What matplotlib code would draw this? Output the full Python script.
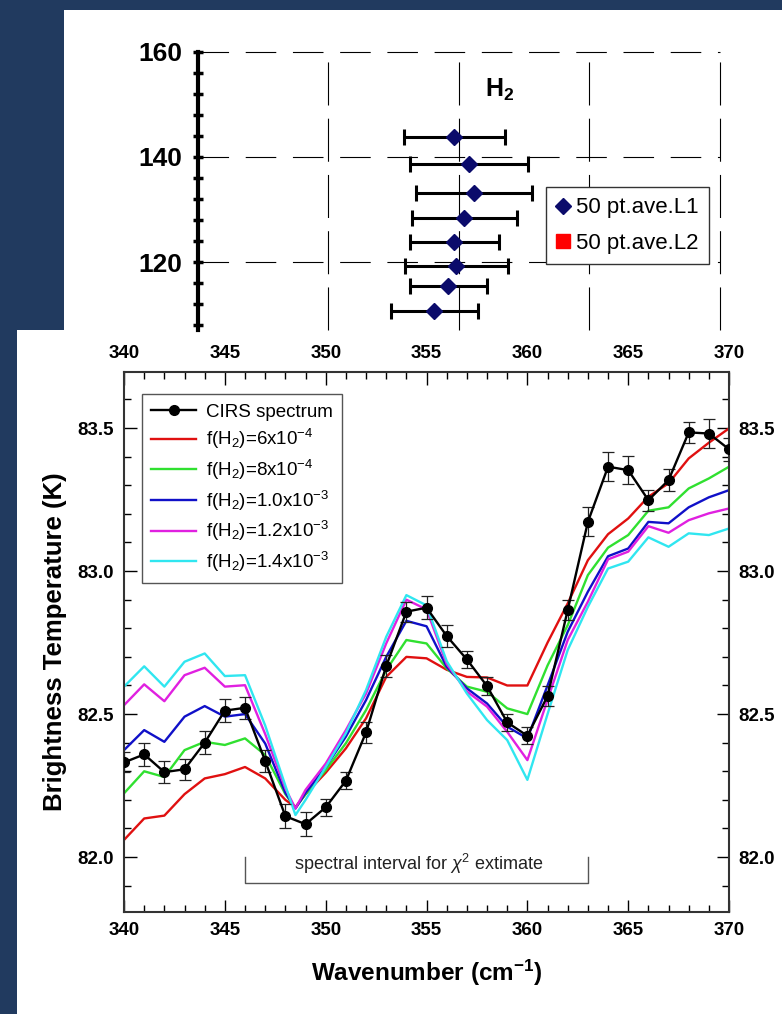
import numpy as np
import matplotlib
matplotlib.use("Agg")
import matplotlib.pyplot as plt
from matplotlib.patches import Rectangle
from matplotlib.lines import Line2D
from matplotlib.ticker import MultipleLocator, FormatStrFormatter

plt.rcParams['font.family'] = ['Liberation Sans', 'DejaVu Sans']
plt.rcParams['mathtext.fontset'] = 'custom'
plt.rcParams['mathtext.rm'] = 'Liberation Sans'
plt.rcParams['mathtext.it'] = 'Liberation Sans:italic'
plt.rcParams['mathtext.bf'] = 'Liberation Sans:bold'
plt.rcParams['lines.scale_dashes'] = False

# upper panel : H2 mole fraction (x 1e-3), 50 point averages
h2_level = [143.7, 138.6, 133.2, 128.4, 123.8, 119.2, 115.4, 110.8]
h2_frac = [0.981, 1.038, 1.057, 1.021, 0.981, 0.988, 0.956, 0.906]
h2_lo = [0.791, 0.814, 0.837, 0.821, 0.812, 0.794, 0.812, 0.741]
h2_hi = [1.177, 1.265, 1.280, 1.221, 1.154, 1.186, 1.106, 1.071]

# lower panel : CIRS spectrum
cirs_wn = list(range(340, 371))
cirs_tb = [82.331, 82.359, 82.297, 82.307, 82.400, 82.512, 82.522, 82.336,
           82.143, 82.115, 82.174, 82.267, 82.436, 82.668, 82.858, 82.872,
           82.773, 82.691, 82.598, 82.471, 82.424, 82.563, 82.864, 83.172,
           83.365, 83.353, 83.248, 83.318, 83.485, 83.481, 83.426]
cirs_err = [0.035, 0.041, 0.038, 0.037, 0.040, 0.040, 0.038, 0.038, 0.041,
            0.042, 0.030, 0.030, 0.038, 0.038, 0.035, 0.041, 0.039, 0.031,
            0.030, 0.030, 0.030, 0.035, 0.035, 0.051, 0.051, 0.050, 0.037,
            0.039, 0.038, 0.050, 0.040]

# synthetic spectra for several H2 abundances
model_wn = [340, 341, 342, 343, 344, 345, 346, 347, 348, 348.5, 349, 350,
            351, 352, 353, 354, 355, 356, 357, 358, 359, 360, 361, 362, 363,
            364, 365, 366, 367, 368, 369, 370]
tb_6e4 = [82.06, 82.135, 82.145, 82.22, 82.275, 82.29, 82.315, 82.275, 82.20,
          82.175, 82.22, 82.295, 82.38, 82.485, 82.63, 82.70, 82.695, 82.655,
          82.63, 82.628, 82.60, 82.60, 82.75, 82.887, 83.038, 83.129, 83.184,
          83.26, 83.307, 83.394, 83.449, 83.499]
tb_8e4 = [82.223, 82.30, 82.28, 82.374, 82.403, 82.392, 82.415, 82.357, 82.22,
          82.172, 82.22, 82.304, 82.398, 82.514, 82.654, 82.759, 82.747, 82.66,
          82.596, 82.578, 82.52, 82.50, 82.67, 82.811, 82.986, 83.082, 83.126,
          83.211, 83.223, 83.289, 83.324, 83.365]
tb_10e4 = [82.374, 82.444, 82.403, 82.491, 82.528, 82.491, 82.50, 82.397,
           82.225, 82.17, 82.225, 82.315, 82.421, 82.549, 82.70, 82.826,
           82.807, 82.665, 82.59, 82.537, 82.456, 82.415, 82.60, 82.788,
           82.928, 83.052, 83.079, 83.172, 83.167, 83.223, 83.258, 83.283]
tb_12e4 = [82.531, 82.604, 82.545, 82.636, 82.662, 82.596, 82.601, 82.43,
           82.24, 82.17, 82.235, 82.327, 82.444, 82.572, 82.747, 82.90,
           82.866, 82.675, 82.579, 82.526, 82.438, 82.339, 82.55, 82.759,
           82.893, 83.041, 83.068, 83.157, 83.134, 83.178, 83.202, 83.219]
tb_14e4 = [82.596, 82.667, 82.596, 82.683, 82.712, 82.633, 82.636, 82.46,
           82.25, 82.147, 82.20, 82.315, 82.433, 82.584, 82.77, 82.916,
           82.88, 82.685, 82.572, 82.479, 82.409, 82.27, 82.50, 82.724,
           82.875, 83.009, 83.033, 83.118, 83.085, 83.132, 83.126, 83.149]
model_labels = [r'f(H$_2$)=6x10$^{-4}$', r'f(H$_2$)=8x10$^{-4}$',
                r'f(H$_2$)=1.0x10$^{-3}$', r'f(H$_2$)=1.2x10$^{-3}$',
                r'f(H$_2$)=1.4x10$^{-3}$']
model_colors = ['#e01010', '#30e030', '#1010c8', '#e020e0', '#30e6f0']

fig = plt.figure(figsize=(7.82, 10.14), dpi=100)
fig.patch.set_facecolor('#213a5f')
fig.add_artist(Rectangle((0.0818, 0.6746), 0.9182, 0.3155, transform=fig.transFigure,
                         facecolor='white', edgecolor='none', zorder=-5))
fig.add_artist(Rectangle((0.0211, 0.0), 0.9789, 0.6746, transform=fig.transFigure,
                         facecolor='white', edgecolor='none', zorder=-5))

# ---- upper panel
ax1 = fig.add_axes([0.2532, 0.6746, 0.6675, 0.2745])
ax1.patch.set_visible(False)
ax1.set_xlim(0, 2.0)
ax1.set_ylim(107.14, 160)
for y in [160, 140, 120]:
    ax1.plot([0, 2.0], [y, y], color='black', lw=0.8, dashes=(22, 12), clip_on=False, zorder=1)
for x in [0.5, 1.0, 1.5, 2.0]:
    ax1.plot([x, x], [107.14, 160], color='black', lw=0.8, dashes=(31, 9.5), clip_on=False, zorder=1)

xerr = [np.array(h2_frac) - np.array(h2_lo), np.array(h2_hi) - np.array(h2_frac)]
ax1.errorbar(h2_frac, h2_level, xerr=xerr, fmt='D', color='#0b0b6b', ms=8,
             ecolor='black', elinewidth=2.2, capsize=6, capthick=2.2, zorder=3)
ax1.text(1.157, 152.7, r'$\mathbf{H_2}$', fontsize=18, ha='center', va='center')

for s in ['top', 'right', 'bottom']:
    ax1.spines[s].set_visible(False)
ax1.spines['left'].set_linewidth(3)
ax1.set_xticks([])
ax1.set_yticks([160, 140, 120])
ax1.yaxis.set_minor_locator(MultipleLocator(4))
ax1.tick_params(axis='y', which='both', direction='inout', length=7, width=2.5,
                labelsize=19, pad=8)
for lab in ax1.get_yticklabels():
    lab.set_fontweight('bold')

top_handles = [Line2D([], [], marker='D', ls='none', color='#0b0b6b', ms=8, label='50 pt.ave.L1'),
               Line2D([], [], marker='s', ls='none', color='red', ms=10, label='50 pt.ave.L2')]
leg1 = ax1.legend(handles=top_handles, loc='upper left', bbox_to_anchor=(0.667, 0.512),
                  borderaxespad=0, fontsize=16, fancybox=False, edgecolor='#333333',
                  framealpha=1, handlelength=0.6, handletextpad=0.3, borderpad=0.45,
                  labelspacing=0.66)
leg1.get_frame().set_linewidth(1)

# ---- lower panel
ax2 = fig.add_axes([0.1586, 0.1006, 0.7737, 0.5325])
ax2.set_xlim(340, 370)
ax2.set_ylim(81.808, 83.696)

model_series = [tb_6e4, tb_8e4, tb_10e4, tb_12e4, tb_14e4]
for tb, col, lab in zip(model_series, model_colors, model_labels):
    ax2.plot(model_wn, tb, color=col, lw=1.7, label=lab, zorder=2)

ax2.errorbar(cirs_wn, cirs_tb, yerr=cirs_err, fmt='-o', color='black', ms=7, lw=1.7,
             ecolor='#222222', elinewidth=0.9, capsize=4, capthick=0.9, zorder=5)

# spectral interval used for the chi2 fit
ax2.plot([346, 346, 363, 363], [82.0, 81.91, 81.91, 82.0], color='#555555', lw=1)
ax2.text(354.6, 81.975, r'spectral interval for $\chi^2$ extimate', ha='center',
         va='center', fontsize=13, color='#222222')

ax2.set_xticks(range(340, 371, 5))
ax2.xaxis.set_minor_locator(MultipleLocator(1))
ax2.set_yticks([82.0, 82.5, 83.0, 83.5])
ax2.yaxis.set_minor_locator(MultipleLocator(0.1))
ax2.yaxis.set_major_formatter(FormatStrFormatter('%.1f'))
ax2.tick_params(which='both', direction='in', top=True, right=True, labeltop=True,
                labelright=True, labelsize=13.5, width=1)
ax2.tick_params(which='major', length=9, pad=7)
ax2.tick_params(which='minor', length=5)
for lab in ax2.get_xticklabels() + ax2.get_yticklabels():
    lab.set_fontweight('bold')
for s in ax2.spines.values():
    s.set_linewidth(1.5)
    s.set_color('#333333')

ax2.set_xlabel(r'Wavenumber (cm$^{\mathbf{-1}}$)', fontsize=17.5, fontweight='bold', labelpad=14)
ax2.set_ylabel('Brightness Temperature (K)', fontsize=18.5, fontweight='bold', labelpad=8)

handles = [Line2D([], [], color='black', marker='o', ms=7, lw=1.7, label='CIRS spectrum')]
handles += ax2.get_legend_handles_labels()[0]
leg2 = ax2.legend(handles=handles, loc='upper left', bbox_to_anchor=(0.0298, 0.959),
                  borderaxespad=0, fontsize=13.5, fancybox=False, edgecolor='#555555',
                  framealpha=1, handlelength=2.4, handletextpad=0.5, borderpad=0.5,
                  labelspacing=0.35)
leg2.get_frame().set_linewidth(1)

fig.savefig('out.png', dpi=100, facecolor=fig.get_facecolor())
